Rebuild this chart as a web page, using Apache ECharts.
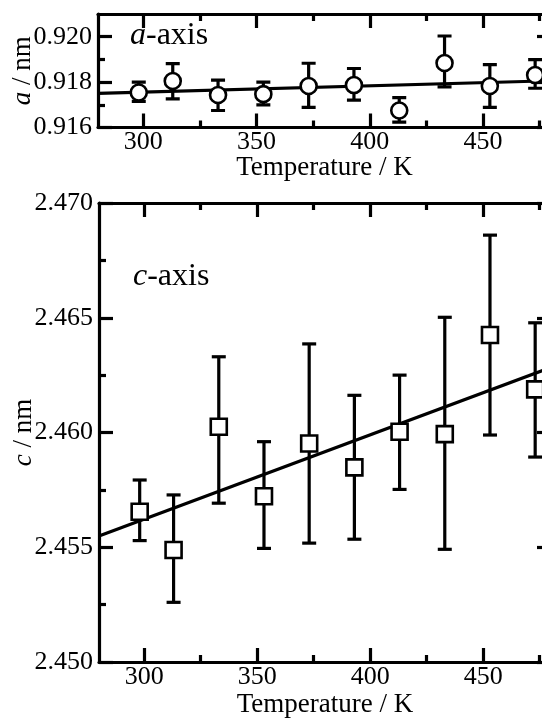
<!DOCTYPE html>
<html><head><meta charset="utf-8">
<script src="https://cdn.jsdelivr.net/npm/echarts@6/dist/echarts.min.js"></script>
<style>html,body{margin:0;padding:0;background:#fff}#c{width:542px;height:718px}</style>
</head><body><div id="c"></div>
<script>
// ---- data ----
var temps = [298, 313, 333, 353, 373, 393, 413, 433, 453, 473];
var aVal  = [0.91754, 0.91805, 0.91743, 0.91747, 0.91783, 0.91787, 0.91675, 0.91884, 0.91783, 0.91831];
var aHigh = [0.91800, 0.91881, 0.91809, 0.91800, 0.91883, 0.91860, 0.91732, 0.92003, 0.91877, 0.91899];
var aLow  = [0.91715, 0.91726, 0.91675, 0.91700, 0.91689, 0.91721, 0.91624, 0.91779, 0.91689, 0.91773];
var cVal  = [2.45655, 2.45488, 2.46025, 2.45722, 2.45952, 2.45848, 2.46003, 2.45993, 2.46425, 2.46188];
var cHigh = [2.45793, 2.45728, 2.46330, 2.45960, 2.46386, 2.46162, 2.46250, 2.46502, 2.46860, 2.46478];
var cLow  = [2.45529, 2.45260, 2.45692, 2.45495, 2.45518, 2.45535, 2.45752, 2.45491, 2.45989, 2.45893];
var fitX  = [280, 480];
var fitA  = [0.91750, 0.91806];
var fitC  = [2.45549, 2.46284];
var xMajor = [300, 350, 400, 450];
var xMinor = [325, 375, 425, 475];
var aMajor = [0.916, 0.918, 0.920];
var aMinor = [0.917, 0.919];
var cMajor = [2.450, 2.455, 2.460, 2.465, 2.470];
var cMinor = [2.4525, 2.4575, 2.4625, 2.4675];
var xName = 'Temperature / K';

var FF = 'Liberation Serif';
var LW = 3.2;
var chart = echarts.init(document.getElementById('c'), null, {renderer: 'canvas'});

function xAxes(g, name, nameGap) {
  var base = {gridIndex: g, type: 'value', min: 280, max: 480, splitLine: {show: false}};
  return [
    Object.assign({}, base, {position: 'bottom',
      axisLine: {show: true, lineStyle: {color: '#000', width: LW}},
      axisTick: {show: true, inside: true, length: 14, customValues: xMajor, lineStyle: {color: '#000', width: LW}},
      axisLabel: {show: true, customValues: xMajor, margin: 2, color: '#000', fontFamily: FF, fontSize: 26,
        formatter: function (v) { return String(Math.round(v)); }},
      name: name, nameLocation: 'middle', nameGap: nameGap, nameMoveOverlap: false,
      nameTextStyle: {color: '#000', fontFamily: FF, fontSize: 27}}),
    Object.assign({}, base, {position: 'bottom', axisLine: {show: false},
      axisTick: {show: true, inside: true, length: 7, customValues: xMinor, lineStyle: {color: '#000', width: LW}},
      axisLabel: {show: false}}),
    Object.assign({}, base, {position: 'top',
      axisLine: {show: true, lineStyle: {color: '#000', width: LW}},
      axisTick: {show: true, inside: true, length: 14, customValues: xMajor, lineStyle: {color: '#000', width: LW}},
      axisLabel: {show: false}}),
    Object.assign({}, base, {position: 'top', axisLine: {show: false},
      axisTick: {show: true, inside: true, length: 7, customValues: xMinor, lineStyle: {color: '#000', width: LW}},
      axisLabel: {show: false}})
  ];
}
function yAxes(g, min, max, major, minor, letter, nameGap) {
  var base = {gridIndex: g, type: 'value', min: min, max: max, splitLine: {show: false}, scale: true};
  return [
    Object.assign({}, base, {position: 'left',
      axisLine: {show: true, lineStyle: {color: '#000', width: LW}},
      axisTick: {show: true, inside: true, length: 14, customValues: major, lineStyle: {color: '#000', width: LW}},
      axisLabel: {show: true, customValues: major, margin: 6, color: '#000', fontFamily: FF, fontSize: 26,
        formatter: function (v) { return v.toFixed(3); }},
      name: '{i|' + letter + '} / nm', nameLocation: 'middle', nameGap: nameGap, nameMoveOverlap: false,
      nameTextStyle: {color: '#000', fontFamily: FF, fontSize: 27,
        rich: {i: {fontStyle: 'italic', fontFamily: FF, fontSize: 27, color: '#000'}}}}),
    Object.assign({}, base, {position: 'left', axisLine: {show: false},
      axisTick: {show: true, inside: true, length: 7, customValues: minor, lineStyle: {color: '#000', width: LW}},
      axisLabel: {show: false}}),
    Object.assign({}, base, {position: 'right',
      axisLine: {show: true, lineStyle: {color: '#000', width: LW}},
      axisTick: {show: true, inside: true, length: 14, customValues: major, lineStyle: {color: '#000', width: LW}},
      axisLabel: {show: false}}),
    Object.assign({}, base, {position: 'right', axisLine: {show: false},
      axisTick: {show: true, inside: true, length: 7, customValues: minor, lineStyle: {color: '#000', width: LW}},
      axisLabel: {show: false}})
  ];
}

function errData(v, hi, lo) {
  return temps.map(function (t, i) { return [t, lo[i], hi[i], v[i]]; });
}
function errRender(params, api) {
  var x = api.value(0);
  var pLo = api.coord([x, api.value(1)]);
  var pHi = api.coord([x, api.value(2)]);
  var hw = 7;
  var st = {stroke: '#000', lineWidth: LW, fill: null};
  return {type: 'group', children: [
    {type: 'line', shape: {x1: pLo[0], y1: pLo[1], x2: pHi[0], y2: pHi[1]}, style: st},
    {type: 'line', shape: {x1: pHi[0] - hw, y1: pHi[1], x2: pHi[0] + hw, y2: pHi[1]}, style: st},
    {type: 'line', shape: {x1: pLo[0] - hw, y1: pLo[1], x2: pLo[0] + hw, y2: pLo[1]}, style: st}
  ]};
}
function pts(v) { return temps.map(function (t, i) { return [t, v[i]]; }); }
function fit(y) { return fitX.map(function (x, i) { return [x, y[i]]; }); }

var option = {
  backgroundColor: '#fff',
  animation: false,
  grid: [
    {left: 98, top: 14, width: 453, height: 113.5, containLabel: false, outerBoundsMode: 'none'},
    {left: 99, top: 203, width: 452, height: 459, containLabel: false, outerBoundsMode: 'none'}
  ],
  xAxis: xAxes(0, xName, 27).concat(xAxes(1, xName, 29)),
  yAxis: yAxes(0, 0.916, 0.921, aMajor, aMinor, 'a', 62).concat(yAxes(1, 2.450, 2.470, cMajor, cMinor, 'c', 62)),
  graphic: [
    {type: 'text', left: 130, top: 20, style: {text: '{i|a}-axis', font: '32px "Liberation Serif"', fill: '#000',
      rich: {i: {fontStyle: 'italic', fontFamily: FF, fontSize: 32, fill: '#000'}}}},
    {type: 'text', left: 133, top: 261, style: {text: '{i|c}-axis', font: '32px "Liberation Serif"', fill: '#000',
      rich: {i: {fontStyle: 'italic', fontFamily: FF, fontSize: 32, fill: '#000'}}}}
  ],
  series: [
    {type: 'line', xAxisIndex: 0, yAxisIndex: 0, data: fit(fitA), showSymbol: false, symbol: 'none',
      lineStyle: {color: '#000', width: LW}, clip: true, z: 1},
    {type: 'custom', xAxisIndex: 0, yAxisIndex: 0, data: errData(aVal, aHigh, aLow), renderItem: errRender, clip: true, z: 2},
    {type: 'scatter', xAxisIndex: 0, yAxisIndex: 0, data: pts(aVal), symbol: 'circle', symbolSize: 16,
      itemStyle: {color: '#fff', borderColor: '#000', borderWidth: 2.6, opacity: 1}, z: 3},
    {type: 'line', xAxisIndex: 4, yAxisIndex: 4, data: fit(fitC), showSymbol: false, symbol: 'none',
      lineStyle: {color: '#000', width: LW}, clip: true, z: 1},
    {type: 'custom', xAxisIndex: 4, yAxisIndex: 4, data: errData(cVal, cHigh, cLow), renderItem: errRender, clip: true, z: 2},
    {type: 'scatter', xAxisIndex: 4, yAxisIndex: 4, data: pts(cVal), symbol: 'rect', symbolSize: 16,
      itemStyle: {color: '#fff', borderColor: '#000', borderWidth: 2.6, opacity: 1}, z: 3}
  ]
};
chart.setOption(option);
</script>
</body></html>
